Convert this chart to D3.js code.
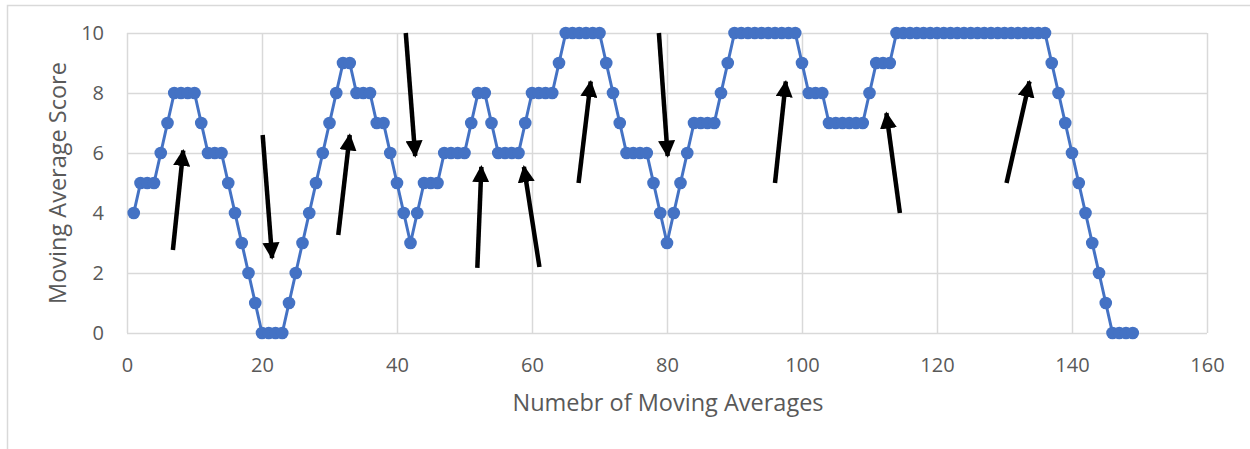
<!DOCTYPE html>
<html>
<head>
<meta charset="utf-8">
<script src="https://cdn.jsdelivr.net/npm/d3@7"></script>
<style>
html, body { margin: 0; padding: 0; background: #fff; }
svg { display: block; }
text { font-family: "Open Sans", "Liberation Sans", sans-serif; fill: #595959; }
</style>
</head>
<body>
<svg id="chart" width="1250" height="449"></svg>
<script>
// Data
const xValues = d3.range(1, 150);
const scores = [
  4, 5, 5, 5, 6, 7, 8, 8, 8, 8,          // 1-10
  7, 6, 6, 6, 5, 4, 3, 2, 1, 0,          // 11-20
  0, 0, 0, 1, 2, 3, 4, 5, 6, 7,          // 21-30
  8, 9, 9, 8, 8, 8, 7, 7, 6, 5,          // 31-40
  4, 3, 4, 5, 5, 5, 6, 6, 6, 6,          // 41-50
  7, 8, 8, 7, 6, 6, 6, 6, 7, 8,          // 51-60
  8, 8, 8, 9, 10, 10, 10, 10, 10, 10,    // 61-70
  9, 8, 7, 6, 6, 6, 6, 5, 4, 3,          // 71-80
  4, 5, 6, 7, 7, 7, 7, 8, 9, 10,         // 81-90
  10, 10, 10, 10, 10, 10, 10, 10, 10, 9, // 91-100
  8, 8, 8, 7, 7, 7, 7, 7, 7, 8,          // 101-110
  9, 9, 9, 10, 10, 10, 10, 10, 10, 10,   // 111-120
  10, 10, 10, 10, 10, 10, 10, 10, 10, 10,// 121-130
  10, 10, 10, 10, 10, 10, 9, 8, 7, 6,    // 131-140
  5, 4, 3, 2, 1, 0, 0, 0, 0              // 141-149
];
const xTicks = [0, 20, 40, 60, 80, 100, 120, 140, 160];
const yTicks = [0, 2, 4, 6, 8, 10];
// Annotation arrows in data units: [tailX, tailY, headX, headY]
const arrows = [
  [6.8, 2.77, 8.33, 6.08],
  [20.1, 6.6, 21.5, 2.5],
  [31.3, 3.27, 33.0, 6.6],
  [41.3, 10.0, 42.7, 5.9],
  [51.9, 2.17, 52.5, 5.54],
  [61.1, 2.2, 58.8, 5.54],
  [66.9, 5.0, 68.7, 8.38],
  [78.8, 10.0, 80.1, 5.9],
  [96.0, 5.0, 97.6, 8.38],
  [114.5, 4.0, 112.5, 7.33],
  [130.3, 5.0, 133.7, 8.38]
];
const xTitle = "Numebr of Moving Averages";
const yTitle = "Moving Average Score";

const svg = d3.select("#chart");
const plot = { left: 127, right: 1207, top: 33, bottom: 333 };

// outer chart border
svg.append("rect")
  .attr("x", 7.5).attr("y", 5.5)
  .attr("width", 1260).attr("height", 460)
  .attr("fill", "#fff").attr("stroke", "#d9d9d9").attr("stroke-width", 1.5);

const x = d3.scaleLinear().domain([0, 160]).range([plot.left, plot.right]);
const y = d3.scaleLinear().domain([0, 10]).range([plot.bottom, plot.top]);

// gridlines
const gx = svg.append("g").attr("transform", `translate(0,${plot.bottom})`)
  .call(d3.axisBottom(x).tickValues(xTicks).tickSize(-(plot.bottom - plot.top)).tickFormat(""));
gx.select(".domain").remove();
gx.selectAll("line").attr("stroke", "#d9d9d9").attr("stroke-width", 1.5);

const gy = svg.append("g").attr("transform", `translate(${plot.left},0)`)
  .call(d3.axisLeft(y).tickValues(yTicks).tickSize(-(plot.right - plot.left)).tickFormat(""));
gy.select(".domain").remove();
gy.selectAll("line").attr("stroke", "#d9d9d9").attr("stroke-width", 1.5);

// tick labels
const xl = svg.append("g").attr("transform", `translate(0,372)`)
  .call(d3.axisBottom(x).tickValues(xTicks).tickSize(0).tickPadding(0).tickFormat(d3.format("d")));
xl.select(".domain").remove();
xl.selectAll("text").attr("y", 0).attr("dy", 0).style("font-size", "20px").attr("fill", "#595959");

const yl = svg.append("g").attr("transform", `translate(104,0)`)
  .call(d3.axisLeft(y).tickValues(yTicks).tickSize(0).tickPadding(0).tickFormat(d3.format("d")));
yl.select(".domain").remove();
yl.selectAll("text").style("font-size", "20px").attr("fill", "#595959");

// axis titles
svg.append("text")
  .attr("x", 668).attr("y", 411)
  .attr("text-anchor", "middle").style("font-size", "23.5px")
  .text(xTitle);
svg.append("text")
  .attr("transform", `translate(66,183) rotate(-90)`)
  .attr("text-anchor", "middle").style("font-size", "23.5px")
  .text(yTitle);

// line
const pts = xValues.map((d, i) => [d, scores[i]]);
svg.append("path")
  .datum(pts)
  .attr("fill", "none").attr("stroke", "#4472C4").attr("stroke-width", 3)
  .attr("stroke-linejoin", "round")
  .attr("d", d3.line().x(d => x(d[0])).y(d => y(d[1])));

svg.append("g").selectAll("circle").data(pts).join("circle")
  .attr("cx", d => x(d[0])).attr("cy", d => y(d[1])).attr("r", 6.3)
  .attr("fill", "#4472C4");

// arrows
svg.append("defs").append("marker")
  .attr("id", "ah").attr("viewBox", "0 0 10 10")
  .attr("refX", 9).attr("refY", 5)
  .attr("markerWidth", 3.8).attr("markerHeight", 3.8)
  .attr("markerUnits", "strokeWidth")
  .attr("orient", "auto")
  .append("path").attr("d", "M0,0 L10,5 L0,10 Z").attr("fill", "#000");

svg.append("g").selectAll("line").data(arrows).join("line")
  .attr("x1", d => x(d[0])).attr("y1", d => y(d[1]))
  .attr("x2", d => x(d[2])).attr("y2", d => y(d[3]))
  .attr("stroke", "#000").attr("stroke-width", 4.5)
  .attr("marker-end", "url(#ah)");
</script>
</body>
</html>
